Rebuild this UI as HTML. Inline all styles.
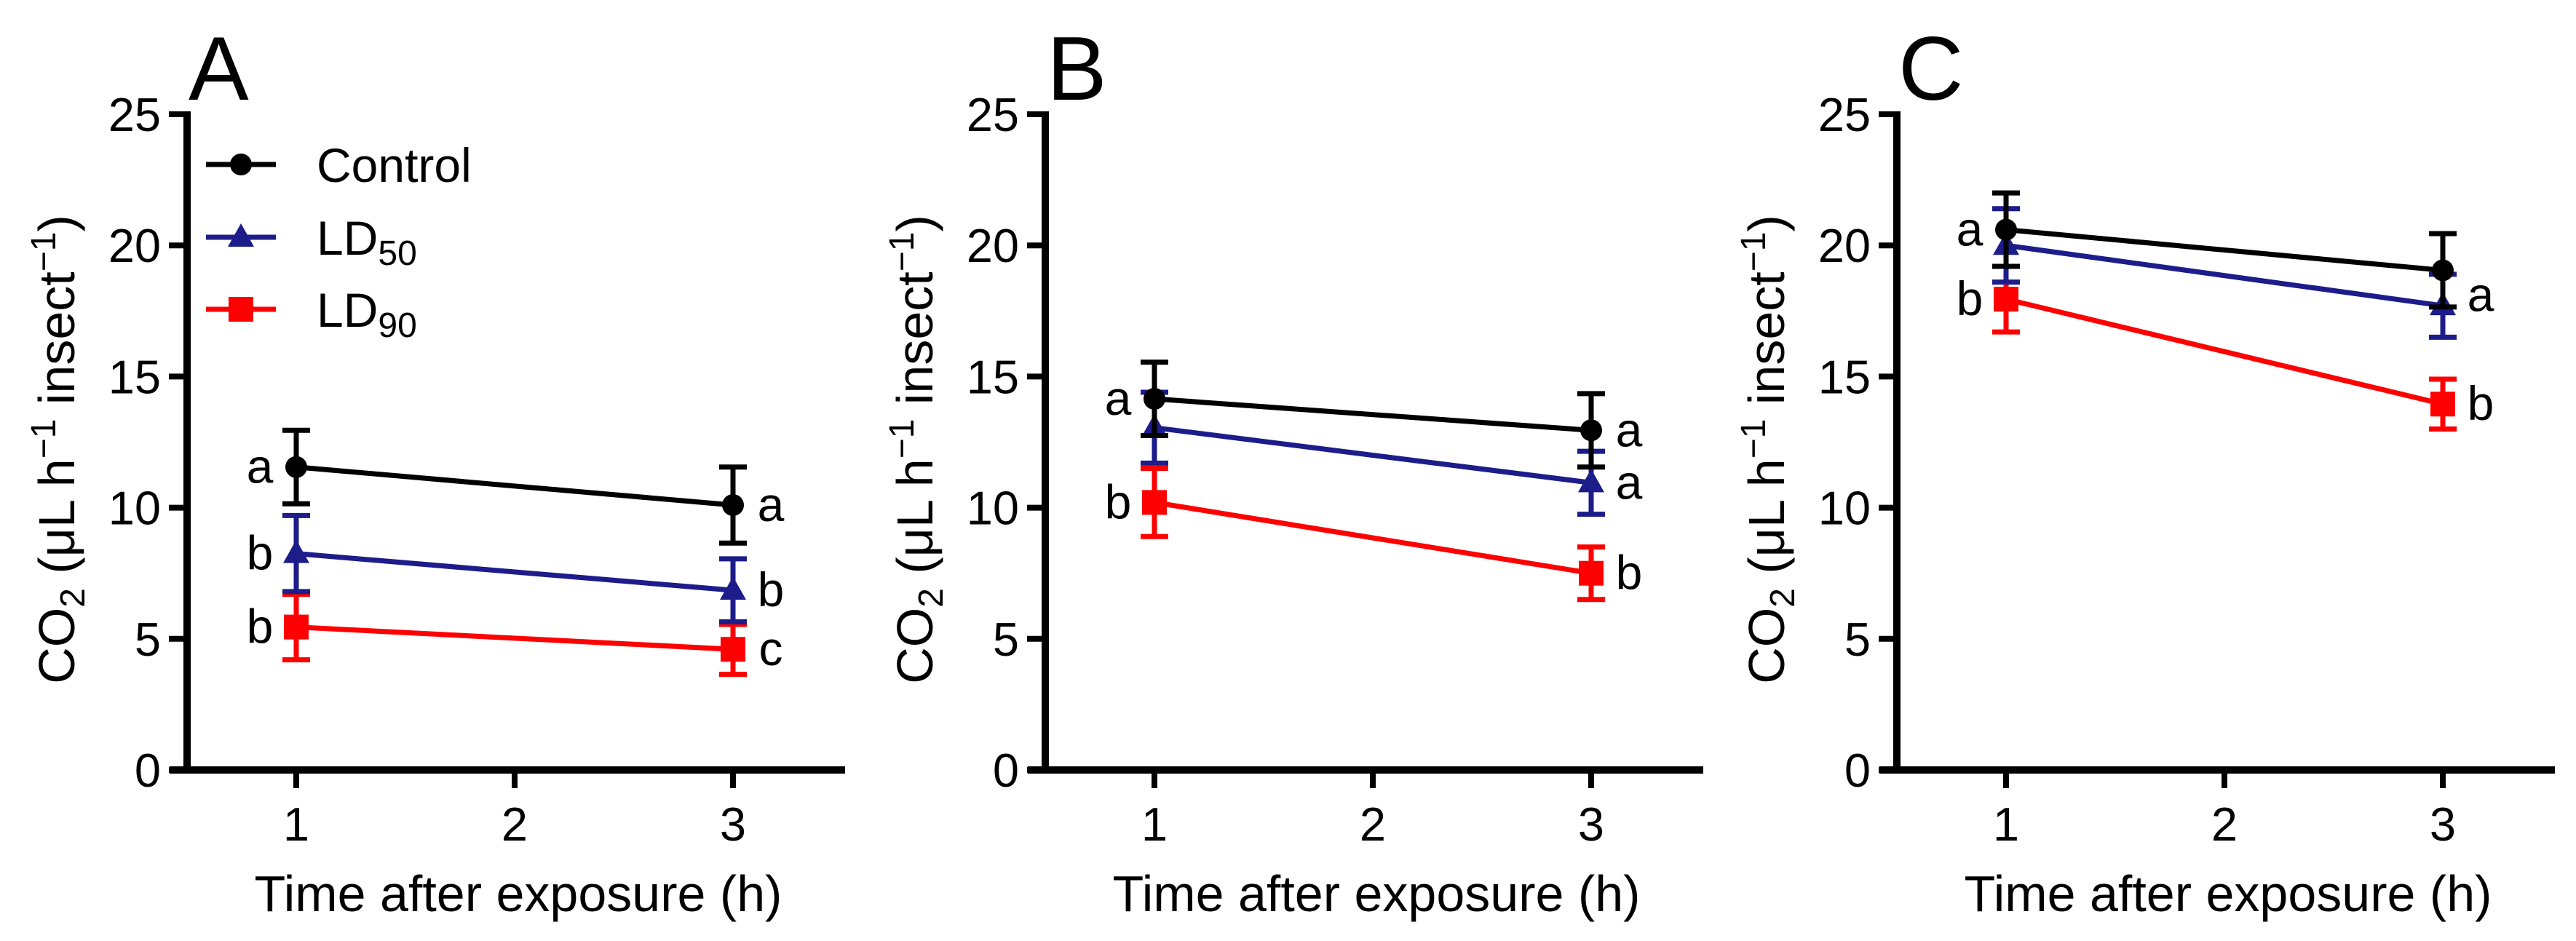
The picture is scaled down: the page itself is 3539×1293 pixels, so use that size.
<!DOCTYPE html>
<html><head><meta charset="utf-8"><style>html,body{margin:0;padding:0;background:#fff;}svg{display:block;font-family:"Liberation Sans",Arial,sans-serif;}</style></head>
<body>
<svg id="chart" width="3539" height="1293" viewBox="0 0 3539 1293" xmlns="http://www.w3.org/2000/svg"></svg>
<script>
const panels = ["A","B","C"];
const times = [1, 3];
const xTicks = [1, 2, 3];
const yTicks = [0, 5, 10, 15, 20, 25];
const seriesNames = ["Control", "LD50", "LD90"];
const controlMean = [[11.55,10.1],[14.15,12.95],[20.6,19.05]];
const controlErr  = [[1.4,1.45],[1.4,1.4],[1.4,1.4]];
const ld50Mean = [[8.25,6.85],[13.05,10.95],[20.0,17.7]];
const ld50Err  = [[1.45,1.2],[1.35,1.2],[1.4,1.2]];
const ld90Mean = [[5.45,4.6],[10.2,7.5],[17.95,13.95]];
const ld90Err  = [[1.25,0.95],[1.3,1.0],[1.25,0.95]];
const letters = [
  [["a","b","b"],["a","b","c"]],
  [["a","","b"],["a","a","b"]],
  [["a","","b"],["","a","b"]]
];
const letterVals = [
  [[11.55,8.25,5.45],[10.1,6.85,4.6]],
  [[14.15,13.05,10.2],[12.95,10.95,7.5]],
  [[20.6,20.0,17.95],[19.05,18.1,13.95]]
];
const colors = ["#000000","#1c1c8a","#ff0000"];
const NS="http://www.w3.org/2000/svg";
const svg=document.getElementById('chart');
function mk(tag,attrs,parent){const e=document.createElementNS(NS,tag);for(const k in attrs)e.setAttribute(k,attrs[k]);(parent||svg).appendChild(e);return e;}
const axisXs=[257,1436,2606];
const y0=1058, yTop=157;
function ys(v){return y0-(v/25)*(y0-yTop);}
panels.forEach((p,pi)=>{
  const ax=axisXs[pi];
  const xs=t=>ax+150+(t-1)*300;
  const g=mk('g',{});
  
  
  const lab=mk('text',{x:ax+2,y:137,'font-size':124},g);lab.textContent=p;
  
  
  const ya=mk('line',{x1:ax,y1:yTop-4,x2:ax,y2:y0+5,stroke:'#000','stroke-width':10},g);
  
  
  const xa=mk('line',{x1:ax-24,y1:y0,x2:ax+904,y2:y0,stroke:'#000','stroke-width':10},g);
  
  
  yTicks.forEach(v=>{
    const tk=mk('line',{x1:ax-25,y1:ys(v),x2:ax,y2:ys(v),stroke:'#000','stroke-width':8},g);
    
    
    const t=mk('text',{x:ax-36,y:ys(v)+23,'font-size':65,'text-anchor':'end'},g);t.textContent=v;
    
    
  });
  xTicks.forEach(v=>{
    const tk=mk('line',{x1:xs(v),y1:y0,x2:xs(v),y2:y0+25,stroke:'#000','stroke-width':8},g);
    
    
    const t=mk('text',{x:xs(v),y:1155,'font-size':65,'text-anchor':'middle'},g);t.textContent=v;
    
    
  });
  const xt=mk('text',{x:ax+455,y:1252,'font-size':70,'text-anchor':'middle'},g);xt.textContent='Time after exposure (h)';
  
  
  const yt=mk('text',{x:0,y:0,'font-size':70,'text-anchor':'middle',transform:`translate(${ax-155},${(y0+yTop)/2+10}) rotate(-90)`},g);
  yt.innerHTML='CO<tspan font-size="48" dy="14">2</tspan><tspan dy="-14"> (μL h</tspan><tspan font-size="48" dy="-26">−1</tspan><tspan dy="26"> insect</tspan><tspan font-size="48" dy="-26">−1</tspan><tspan dy="26">)</tspan>';
  
  
  const means=[controlMean[pi],ld50Mean[pi],ld90Mean[pi]];
  const errs=[controlErr[pi],ld50Err[pi],ld90Err[pi]];
  [2,1,0].forEach(si=>{
    const c=colors[si];
    const sg=mk('g',{},g);
    
    
    const ln=mk('line',{x1:xs(times[0]),y1:ys(means[si][0]),x2:xs(times[1]),y2:ys(means[si][1]),stroke:c,'stroke-width':7},sg);
    
    
    times.forEach((t,ti)=>{
      const x=xs(t),m=means[si][ti],e=errs[si][ti];
      const eb=mk('path',{d:`M${x},${ys(m+e)}V${ys(m-e)}M${x-19},${ys(m+e)}H${x+19}M${x-19},${ys(m-e)}H${x+19}`,stroke:c,'stroke-width':7,fill:'none'},sg);
      
      
      const y=ys(m);let mkr;
      if(si===0)mkr=mk('circle',{cx:x,cy:y,r:15,fill:c},sg);
      else if(si===1)mkr=mk('path',{d:`M${x},${y-19}L${x+18},${y+13}L${x-18},${y+13}Z`,fill:c},sg);
      else mkr=mk('rect',{x:x-17,y:y-17,width:34,height:34,fill:c},sg);
      
      
    });
  });
  times.forEach((t,ti)=>{
    letters[pi][ti].forEach((L,si)=>{
      if(!L)return;
      const x=ti===0?xs(t)-50:xs(t)+52;
      const tx=mk('text',{x:x,y:ys(letterVals[pi][ti][si])+22,'font-size':66,'text-anchor':'middle'},g);tx.textContent=L;
      
      
    });
  });
  if(pi===0){
    const lg=mk('g',{},g);
    
    
    const ly=[226,326,425];
    seriesNames.forEach((n,si)=>{
      const eg=mk('g',{},lg);
      
      
      const c=colors[si],y=ly[si],x=331;
      mk('line',{x1:283,y1:y,x2:379,y2:y,stroke:c,'stroke-width':7},eg);
      if(si===0)mk('circle',{cx:x,cy:y,r:15,fill:c},eg);
      else if(si===1)mk('path',{d:`M${x},${y-19}L${x+18},${y+13}L${x-18},${y+13}Z`,fill:c},eg);
      else mk('rect',{x:x-17,y:y-17,width:34,height:34,fill:c},eg);
      const t=mk('text',{x:435,y:y+24,'font-size':66},eg);
      if(si===0)t.textContent='Control';
      else t.innerHTML='LD<tspan font-size="48" dy="14">'+n.slice(2)+'</tspan>';
    });
  }
});
</script>
</body></html>
